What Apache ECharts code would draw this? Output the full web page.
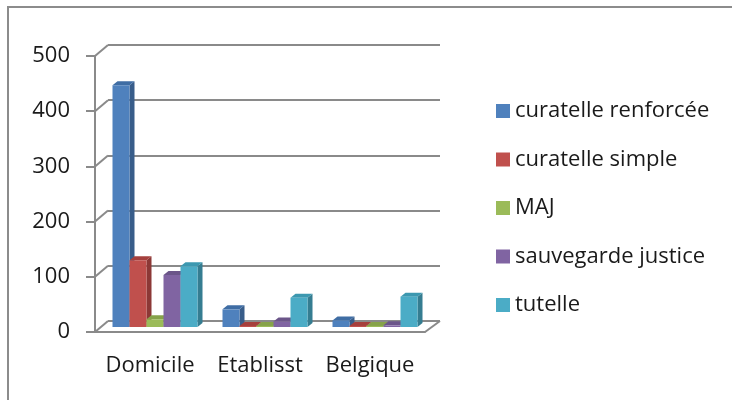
<!DOCTYPE html>
<html>
<head>
<meta charset="utf-8">
<script src="https://cdn.jsdelivr.net/npm/echarts@6/dist/echarts.min.js"></script>
<style>
  html, body { margin: 0; padding: 0; background: #fff; }
  #chart { width: 732px; height: 400px; }
</style>
</head>
<body>
<div id="chart"></div>
<script>
var categories = ["Domicile", "Etablisst", "Belgique"];
var seriesNames = ["curatelle renforcée", "curatelle simple", "MAJ", "sauvegarde justice", "tutelle"];
var curatelleRenforcee = [438, 32, 12];
var curatelleSimple = [121, 2, 2];
var maj = [14, 2, 2];
var sauvegardeJustice = [94, 10, 3];
var tutelle = [110, 53, 55];
var yTicks = [0, 100, 200, 300, 400, 500];

var values = [curatelleRenforcee, curatelleSimple, maj, sauvegardeJustice, tutelle];
var colors = ["#4F81BD", "#C0504D", "#9BBB59", "#8064A2", "#4BACC6"];
var sideColors = ["#385D8A", "#8C3836", "#71893F", "#5C4776", "#357D91"];
var topColors = ["#3F6DA4", "#A5403D", "#86A24A", "#6B5589", "#3C98B0"];

var FONT = "Open Sans";
var TEXT = "#1a1a1a";
var GRID = "#8a8a8a";
var DEPTH_X = 13, DEPTH_Y = 11;   // wall depth
var BAR_DX = 5, BAR_DY = 5;       // bars sit mid-depth
var BAR_W = 17, SIDE_X = 5, SIDE_Y = 4;

var myChart = echarts.init(document.getElementById("chart"));

function barRender(si) {
  return function (params, api) {
    var cat = api.value(0);
    var val = api.value(1);
    var base = api.coord([cat, 0]);
    var top = api.coord([cat, val]);
    var x0 = base[0] + (si - 2) * BAR_W - BAR_W / 2 + BAR_DX;
    var yb = base[1] - BAR_DY;
    var yt = top[1] - BAR_DY;
    var x1 = x0 + BAR_W;
    return {
      type: "group",
      children: [
        { type: "polygon", shape: { points: [[x1, yt], [x1 + SIDE_X, yt - SIDE_Y], [x1 + SIDE_X, yb - SIDE_Y], [x1, yb]] },
          style: { fill: sideColors[si] } },
        { type: "polygon", shape: { points: [[x0, yt], [x0 + SIDE_X, yt - SIDE_Y], [x1 + SIDE_X, yt - SIDE_Y], [x1, yt]] },
          style: { fill: topColors[si] } },
        { type: "rect", shape: { x: x0, y: yt, width: BAR_W, height: yb - yt },
          style: { fill: colors[si] } }
      ]
    };
  };
}

var series = [
  {
    // diagonal connectors between front axis and back wall
    type: "custom",
    xAxisIndex: 0,
    yAxisIndex: 0,
    silent: true,
    data: yTicks.map(function (v) { return [0, v]; }),
    renderItem: function (params, api) {
      var cs = params.coordSys;
      var y = api.coord([0, api.value(1)])[1];
      var children = [
        { type: "line", shape: { x1: cs.x, y1: y, x2: cs.x + DEPTH_X, y2: y - DEPTH_Y },
          style: { stroke: GRID, lineWidth: 2 } }
      ];
      if (api.value(1) === 0) {
        children.push({ type: "line", shape: { x1: cs.x + cs.width, y1: y, x2: cs.x + cs.width + DEPTH_X + 2, y2: y - DEPTH_Y },
          style: { stroke: GRID, lineWidth: 2 } });
      }
      return { type: "group", children: children };
    },
    z: 1
  }
];

seriesNames.forEach(function (name, i) {
  series.push({
    name: name,
    type: "custom",
    xAxisIndex: 0,
    yAxisIndex: 0,
    itemStyle: { color: colors[i] },
    data: values[i].map(function (v, c) { return [c, v]; }),
    renderItem: barRender(i),
    z: 3
  });
});

var option = {
  animation: false,
  backgroundColor: "#fff",
  textStyle: { fontFamily: FONT },
  graphic: [
    { type: "rect", shape: { x: 8, y: 7, width: 900, height: 600 },
      style: { fill: "none", stroke: "#8c8c8c", lineWidth: 2 }, z: -10 }
  ],
  legend: {
    orient: "vertical",
    left: 491,
    top: 95,
    icon: "rect",
    itemWidth: 14,
    itemHeight: 14,
    itemGap: 26.5,
    textStyle: { fontFamily: FONT, fontSize: 22, lineHeight: 22, color: TEXT, padding: [0, 0, 0, 0] },
    data: seriesNames
  },
  grid: [
    { left: 95, top: 56, width: 330, height: 276 },
    { left: 108, top: 45, width: 332, height: 276 }
  ],
  xAxis: [
    {
      type: "category",
      gridIndex: 0,
      data: categories,
      axisLine: { lineStyle: { color: GRID, width: 2 } },
      axisTick: { length: 8, lineStyle: { color: GRID, width: 2 } },
      axisLabel: { fontFamily: FONT, fontSize: 22, color: TEXT, margin: 23, interval: 0, hideOverlap: false }
    },
    {
      type: "category",
      gridIndex: 1,
      data: categories,
      show: false
    }
  ],
  yAxis: [
    {
      type: "value",
      gridIndex: 0,
      min: 0,
      max: 500,
      interval: 100,
      axisLine: { show: true, lineStyle: { color: GRID, width: 2 } },
      axisTick: { show: true, length: 9, lineStyle: { color: GRID, width: 2 } },
      axisLabel: { fontFamily: FONT, fontSize: 22, color: TEXT, margin: 25 },
      splitLine: { show: false }
    },
    {
      type: "value",
      gridIndex: 1,
      min: 0,
      max: 500,
      interval: 100,
      axisLine: { show: false },
      axisTick: { show: false },
      axisLabel: { show: false },
      splitLine: { show: true, lineStyle: { color: GRID, width: 2 } }
    }
  ],
  series: series
};

myChart.setOption(option);
</script>
</body>
</html>
